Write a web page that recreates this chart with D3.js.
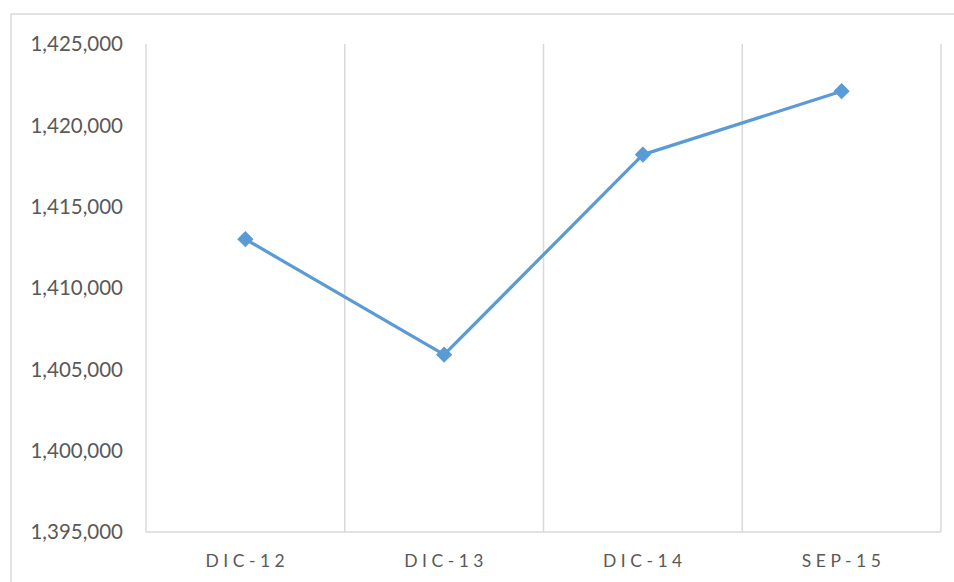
<!DOCTYPE html>
<html>
<head>
<meta charset="utf-8">
<script src="https://cdn.jsdelivr.net/npm/d3@7"></script>
<style>
  body { margin: 0; background: #fff; }
  svg { display: block; }
</style>
</head>
<body>
<div id="chart"></div>
<script>
// data
const categories = ["DIC-12", "DIC-13", "DIC-14", "SEP-15"];
const values = [1413000, 1405900, 1418200, 1422100];
const yTicks = [1395000, 1400000, 1405000, 1410000, 1415000, 1420000, 1425000];

const totalW = 954, totalH = 582;
const plot = { left: 146, right: 941, top: 44, bottom: 532 };

const svg = d3.select("#chart").append("svg")
  .attr("width", totalW).attr("height", totalH);

// outer chart border
svg.append("rect").attr("x", 11).attr("y", 14)
  .attr("width", 952).attr("height", 600)
  .attr("fill", "none").attr("stroke", "#d9d9d9").attr("stroke-width", 1.5);

const x = d3.scaleBand().domain(categories).range([plot.left, plot.right]).paddingInner(0).paddingOuter(0);
const y = d3.scaleLinear().domain([1395000, 1425000]).range([plot.bottom, plot.top]);

// vertical gridlines at category boundaries
const bounds = categories.map(c => x(c)).concat([x(categories[categories.length - 1]) + x.bandwidth()]);
svg.append("g").selectAll("line").data(bounds).join("line")
  .attr("x1", d => d).attr("x2", d => d)
  .attr("y1", plot.top).attr("y2", plot.bottom)
  .attr("stroke", "#d9d9d9").attr("stroke-width", 1.5);

// bottom axis line
svg.append("line").attr("x1", plot.left).attr("x2", plot.right)
  .attr("y1", plot.bottom).attr("y2", plot.bottom)
  .attr("stroke", "#d9d9d9").attr("stroke-width", 1.5);

// y labels
const fmt = d3.format(",");
svg.append("g").selectAll("text").data(yTicks).join("text")
  .attr("x", 123).attr("y", d => y(d)).attr("dy", "0.35em")
  .attr("text-anchor", "end").attr("fill", "#595959")
  .style("font-family", "Lato, 'Open Sans', sans-serif").style("font-size", "20.5px")
  .text(d => fmt(d));

// x labels
svg.append("g").selectAll("text").data(categories).join("text")
  .attr("x", d => x(d) + x.bandwidth() / 2 + 2).attr("y", 567)
  .attr("text-anchor", "middle").attr("fill", "#595959")
  .style("font-family", "Lato, 'Open Sans', sans-serif").style("font-size", "17.5px")
  .style("letter-spacing", "4.5px")
  .text(d => d);

// line
const pts = categories.map((c, i) => [x(c) + x.bandwidth() / 2, y(values[i])]);
svg.append("path").datum(pts)
  .attr("d", d3.line())
  .attr("fill", "none").attr("stroke", "#5b9bd5").attr("stroke-width", 3.2)
  .attr("stroke-linejoin", "round");

// diamond markers
svg.append("g").selectAll("path").data(pts).join("path")
  .attr("transform", d => `translate(${d[0]},${d[1]}) rotate(45)`)
  .attr("d", d3.symbol().type(d3.symbolSquare).size(110))
  .attr("fill", "#5b9bd5").attr("stroke", "#5b9bd5").attr("stroke-width", 1);
</script>
</body>
</html>
